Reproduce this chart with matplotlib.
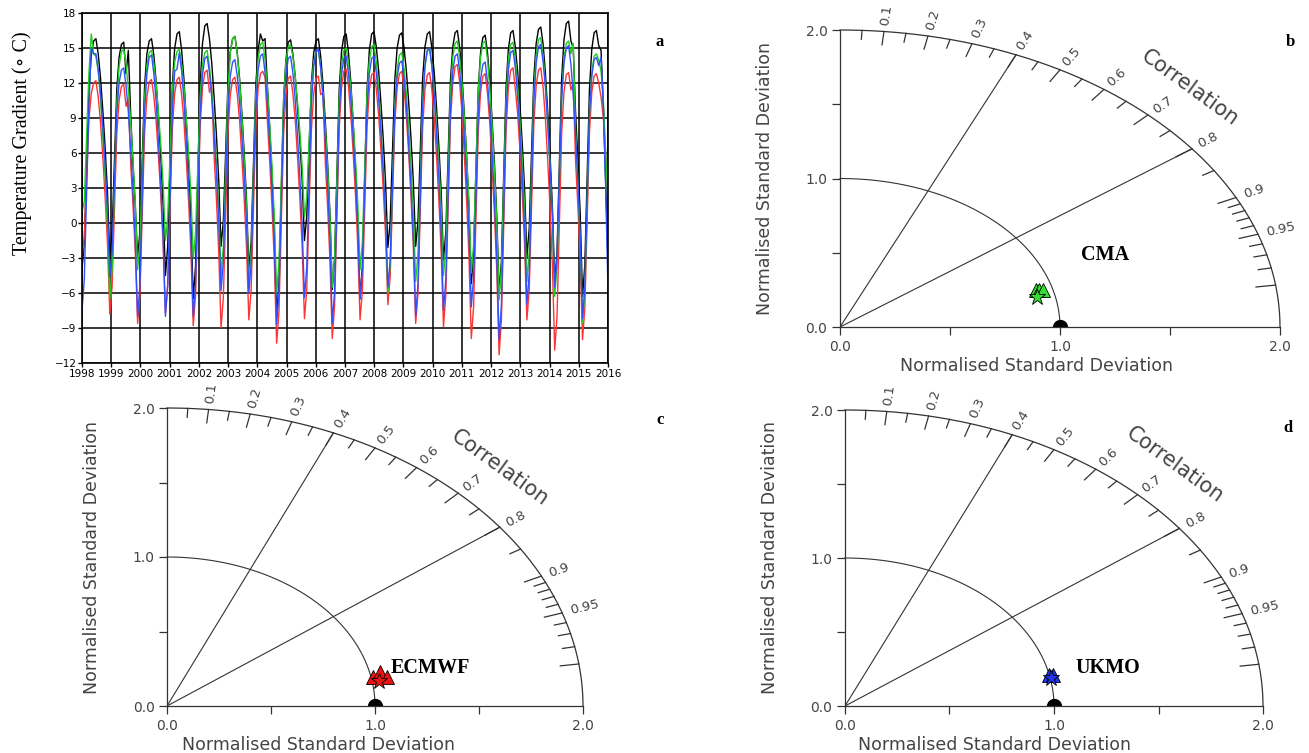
import numpy as np
import matplotlib
matplotlib.use("Agg")
import matplotlib.pyplot as plt

# monthly temperature gradient, 19 cycles of 12 values, plotted over 1998-2016
obs = [
    -4.0, -1.6, 4.9, 11.4, 14.4, 15.6, 15.8, 14.5, 12.4, 9.6, 6.4, 2.6,
    -3.0, -0.8, 5.3, 11.4, 14.2, 15.3, 15.5, 12.8, 14.8, 9.4, 5.0, 1.5,
    -3.0, -0.7, 5.5, 11.7, 14.5, 15.6, 15.8, 14.4, 12.1, 9.1, 5.7, 1.6,
    -4.5, -2.0, 4.9, 11.8, 15.0, 16.2, 16.4, 14.8, 12.3, 8.8, 5.0, 0.4,
    -6.5, -3.7, 4.1, 11.9, 15.4, 16.9, 17.1, 15.8, 13.7, 10.8, 7.6, 3.7,
    -2.0, 0.2, 6.1, 12.0, 14.7, 15.8, 16.0, 14.6, 12.4, 9.4, 6.0, 2.0,
    -4.0, -1.6, 5.1, 11.8, 14.8, 16.2, 15.6, 15.8, 11.8, 8.2, 4.1, -0.7,
    -8.0, -5.2, 2.7, 10.5, 14.0, 15.5, 15.7, 14.5, 12.6, 10.0, 7.1, 3.7,
    -1.5, 0.6, 6.3, 12.0, 14.6, 15.6, 15.8, 14.3, 11.9, 8.7, 5.1, 0.8,
    -5.7, -3.1, 4.2, 11.4, 14.7, 16.0, 16.2, 14.6, 12.1, 8.7, 4.9, 0.3,
    -6.5, -3.8, 3.8, 11.4, 14.8, 16.2, 16.4, 15.1, 13.1, 10.3, 7.2, 3.5,
    -2.1, 0.1, 6.2, 12.3, 15.0, 16.1, 16.3, 15.0, 13.0, 10.3, 7.2, 3.5,
    -2.0, 0.2, 6.3, 12.4, 15.1, 16.2, 16.4, 15.0, 12.9, 9.9, 6.6, 2.7,
    -3.2, -0.8, 5.7, 12.2, 15.1, 16.3, 16.5, 15.0, 12.6, 9.3, 5.7, 1.3,
    -5.2, -2.6, 4.4, 11.4, 14.6, 15.9, 16.1, 14.6, 12.1, 8.8, 5.1, 0.6,
    -6.0, -3.3, 4.1, 11.6, 14.9, 16.3, 16.5, 15.1, 13.0, 10.1, 6.8, 2.9,
    -2.9, -0.5, 6.0, 12.5, 15.4, 16.6, 16.8, 15.3, 12.8, 9.5, 5.8, 1.4,
    -5.2, -2.5, 5.0, 12.4, 15.7, 17.1, 17.3, 15.6, 15.0, 9.5, 5.5, 0.8,
    -6.3, -3.6, 4.0, 11.5, 14.9, 16.3, 16.5, 15.2, 14.8, 10.0, 3.5, -3.5,
]
cma = [
    1.0, 1.8, 7.5, 12.9, 16.2, 14.5, 14.3, 13.0, 10.6, 7.4, 3.9, -0.3,
    -6.5, -3.9, 3.1, 10.2, 13.4, 14.7, 14.9, 13.6, 11.5, 8.7, 5.5, 1.7,
    -4.0, -1.7, 4.5, 10.7, 13.5, 14.6, 14.8, 13.7, 11.9, 9.4, 6.7, 3.4,
    -1.5, 0.5, 5.9, 11.3, 13.8, 14.7, 14.9, 13.6, 11.7, 9.0, 6.0, 2.4,
    -3.0, -0.9, 5.0, 10.9, 13.6, 14.6, 14.8, 13.4, 11.3, 8.4, 5.2, 1.3,
    -4.5, -2.0, 4.7, 11.5, 14.6, 15.8, 16.0, 14.5, 12.2, 9.1, 5.5, 1.3,
    -5.0, -2.5, 4.2, 11.0, 14.1, 15.3, 15.5, 14.0, 11.6, 8.4, 4.8, 0.5,
    -6.0, -3.4, 3.6, 10.6, 13.8, 15.1, 15.3, 14.3, 12.6, 10.4, 7.9, 4.9,
    0.5, 2.2, 6.9, 11.7, 13.8, 14.7, 14.8, 13.4, 11.1, 8.1, 4.7, 0.6,
    -5.5, -3.0, 3.7, 10.5, 13.6, 14.8, 15.0, 13.7, 11.6, 8.7, 5.5, 1.7,
    -4.0, -1.7, 4.7, 11.1, 13.9, 15.1, 15.3, 13.8, 11.5, 8.3, 4.7, 0.4,
    -6.0, -3.5, 3.3, 10.1, 13.2, 14.4, 14.6, 13.2, 11.1, 8.1, 4.8, 0.9,
    -5.0, -2.6, 4.0, 10.5, 13.5, 14.7, 14.9, 13.5, 11.4, 8.5, 5.2, 1.3,
    -4.5, -2.1, 4.5, 11.2, 14.2, 15.4, 15.6, 14.2, 12.0, 9.0, 5.7, 1.7,
    -4.3, -1.9, 4.7, 11.2, 14.2, 15.4, 15.6, 14.0, 11.6, 8.3, 4.5, 0.1,
    -6.6, -3.9, 3.3, 10.6, 14.0, 15.3, 15.5, 14.1, 11.8, 8.7, 5.3, 1.2,
    -5.0, -2.5, 4.4, 11.3, 14.4, 15.7, 15.9, 14.3, 11.9, 8.6, 4.8, 0.4,
    -6.3, -3.7, 3.6, 10.8, 14.1, 15.4, 15.6, 14.5, 15.4, 8.0, 3.5, -1.5,
    -8.6, -5.8, 1.8, 9.4, 12.9, 14.3, 14.5, 14.0, 13.0, 10.5, 6.0, 1.5,
]
ukmo = [
    -7.5, -4.8, 2.6, 10.1, 15.0, 14.5, 14.5, 13.2, 11.1, 8.2, 4.9, 1.1,
    -4.6, -2.5, 3.5, 9.4, 12.0, 13.1, 13.3, 11.8, 9.5, 6.3, 2.7, -1.6,
    -8.0, -5.3, 2.1, 9.5, 12.8, 14.2, 14.4, 12.8, 10.4, 7.0, 3.2, -1.3,
    -8.0, -5.3, 2.2, 9.6, 13.0, 13.2, 14.6, 13.0, 10.5, 7.1, 3.3, -1.2,
    -8.0, -5.3, 2.0, 9.4, 12.7, 14.1, 14.3, 12.9, 10.7, 7.7, 4.3, 0.2,
    -5.8, -3.4, 3.1, 9.6, 12.6, 13.8, 14.0, 12.6, 10.4, 7.4, 4.0, 0.0,
    -6.0, -3.5, 3.2, 10.0, 13.1, 14.3, 14.5, 12.9, 10.3, 6.8, 2.9, -1.7,
    -8.7, -5.9, 1.7, 9.2, 12.7, 14.1, 14.3, 12.9, 10.6, 7.5, 4.0, -0.2,
    -6.4, -3.8, 3.2, 10.2, 13.4, 14.7, 14.9, 13.3, 10.7, 7.1, 3.2, -1.5,
    -8.6, -5.9, 1.7, 9.3, 12.7, 14.1, 14.3, 12.8, 10.6, 7.4, 3.9, -0.3,
    -6.5, -4.0, 2.9, 9.7, 12.8, 14.1, 14.3, 12.9, 10.7, 7.8, 4.4, 0.4,
    -5.5, -3.2, 3.2, 9.6, 12.5, 13.7, 13.9, 12.4, 10.0, 6.7, 3.0, -1.4,
    -8.0, -5.2, 2.4, 9.9, 13.4, 14.8, 15.0, 13.4, 11.0, 7.6, 3.8, -0.8,
    -7.5, -4.9, 2.4, 9.7, 13.0, 14.3, 14.5, 13.0, 10.6, 7.3, 3.7, -0.7,
    -7.2, -4.7, 2.3, 9.2, 12.3, 13.6, 13.8, 12.1, 9.5, 6.0, 1.9, -2.9,
    -10.0, -7.0, 1.2, 9.3, 13.1, 14.6, 14.8, 13.3, 10.9, 7.6, 3.9, -0.5,
    -7.0, -4.3, 3.0, 10.4, 13.7, 15.1, 15.3, 13.8, 11.6, 8.4, 4.9, 0.7,
    -5.5, -3.0, 3.8, 10.6, 13.7, 15.0, 15.2, 13.6, 11.0, 7.5, 3.5, -1.2,
    -8.2, -5.5, 1.9, 9.3, 12.6, 14.0, 14.2, 13.5, 14.2, 10.0, 3.0, -5.8,
]
ecmwf = [
    -3.0, -1.2, 3.8, 8.9, 11.1, 12.0, 12.2, 10.8, 8.6, 5.6, 2.2, -1.8,
    -7.8, -5.4, 1.1, 7.6, 10.5, 11.7, 11.9, 10.0, 10.7, 5.1, 1.6, -2.5,
    -8.6, -6.1, 0.8, 7.7, 10.8, 12.1, 12.3, 10.9, 8.7, 5.7, 2.3, -1.7,
    -7.7, -5.3, 1.4, 8.1, 11.1, 12.3, 12.5, 11.0, 8.7, 5.5, 1.9, -2.4,
    -8.8, -6.2, 1.1, 8.3, 11.6, 12.9, 13.1, 11.2, 11.8, 5.8, 2.1, -2.4,
    -9.0, -6.4, 0.7, 7.8, 11.0, 12.3, 12.5, 11.0, 8.8, 5.6, 2.1, -2.1,
    -8.3, -5.7, 1.3, 8.3, 11.5, 12.8, 13.0, 12.5, 8.8, 5.3, 1.4, -3.3,
    -10.3, -7.6, 0.0, 7.6, 11.0, 12.4, 12.6, 11.1, 8.9, 5.7, 2.2, -2.0,
    -8.2, -5.7, 1.2, 8.0, 11.1, 12.4, 12.6, 11.0, 11.2, 5.2, 1.4, -3.2,
    -9.9, -7.1, 0.5, 8.1, 11.6, 13.0, 13.2, 11.7, 9.3, 6.1, 2.5, -1.9,
    -8.3, -5.8, 1.2, 8.2, 11.4, 12.7, 12.9, 11.5, 9.3, 6.3, 2.9, -1.0,
    -7.0, -4.6, 2.0, 8.6, 11.6, 12.8, 13.0, 11.5, 9.1, 5.9, 2.2, -2.1,
    -8.6, -6.0, 1.1, 8.2, 11.4, 12.7, 12.9, 11.4, 9.0, 5.7, 2.0, -2.4,
    -8.9, -6.2, 1.2, 8.7, 12.0, 13.4, 13.6, 12.0, 9.4, 5.8, 1.9, -2.9,
    -9.9, -7.2, 0.3, 7.8, 11.2, 12.6, 12.8, 11.1, 8.5, 4.8, 0.8, -4.1,
    -11.3, -8.3, -0.2, 7.9, 11.6, 13.1, 13.3, 11.5, 9.4, 6.2, 2.5, -1.8,
    -8.3, -5.7, 1.4, 8.5, 11.8, 13.1, 13.3, 11.6, 8.9, 5.3, 1.2, -3.6,
    -10.9, -8.0, -0.2, 7.7, 11.2, 12.7, 12.9, 11.4, 12.0, 5.3, 1.5, -3.1,
    -10.0, -7.3, 0.3, 7.8, 11.2, 12.6, 12.8, 12.0, 10.8, 9.0, 6.0, 2.0,
]
years = list(range(1998, 2017))
yticks_a = list(range(-12, 19, 3))

# taylor diagram points: (std ratio, correlation)
cma_tri_std = [0.924, 0.939, 0.958]
cma_tri_cor = [0.963, 0.964, 0.965]
cma_star = (0.920, 0.975)
ecm_tri_std = [1.010, 1.050, 1.077]
ecm_tri_cor = [0.981, 0.976, 0.983]
ecm_star = (1.032, 0.987)
uk_tri_std = [0.998, 1.017]
uk_tri_cor = [0.977, 0.978]
uk_star = (1.003, 0.982)

corr_major = [0.1, 0.2, 0.3, 0.4, 0.5, 0.6, 0.7, 0.8, 0.9, 0.95, 0.99]
corr_minor = [0.05, 0.15, 0.25, 0.35, 0.45, 0.55, 0.65, 0.75, 0.85,
              0.91, 0.92, 0.93, 0.94, 0.96, 0.97, 0.98]
corr_labels = [0.1, 0.2, 0.3, 0.4, 0.5, 0.6, 0.7, 0.8, 0.9, 0.95]

W, H = 1309, 753
fig = plt.figure(figsize=(W / 100, H / 100), dpi=100)


def px_axes(x0, y0, x1, y1):
    return fig.add_axes([x0 / W, 1 - y1 / H, (x1 - x0) / W, (y1 - y0) / H])


def ftext(x, y, s, **kw):
    fig.text(x / W, 1 - y / H, s, **kw)


serif = ["Liberation Serif", "DejaVu Serif"]

# ---- panel a ----
ax = px_axes(82, 13, 608, 363)
t = np.linspace(1998, 2016, len(obs))
ax.plot(t, obs, color="black", lw=1.0)
ax.plot(t, ecmwf, color="#ff3333", lw=1.0)
ax.plot(t, cma, color="#1ecc1e", lw=1.0)
ax.plot(t, ukmo, color="#3050ff", lw=1.0)
ax.set_xlim(1998, 2016)
ax.set_ylim(-12, 18)
ax.set_xticks(years)
ax.set_yticks(yticks_a)
ax.grid(True, color="black", lw=1.1)
for s in ax.spines.values():
    s.set_linewidth(1.2)
ax.tick_params(labelsize=7.5, length=3, width=1, pad=1)
ftext(22, 143, "Temperature Gradient (\u2218 C)", rotation=90, ha="center",
      va="center", fontsize=14.5, family=serif)


# ---- taylor panels ----
def taylor(ax, name, tri_std, tri_cor, star, color, name_xy, corr_xy,
           xlab_x, xlab_y):
    gray = "#333333"
    ax.set_xlim(0, 2)
    ax.set_ylim(0, 2)
    for side in ["top", "right"]:
        ax.spines[side].set_visible(False)
    for side in ["left", "bottom"]:
        ax.spines[side].set_color(gray)
        ax.spines[side].set_linewidth(0.9)
    ax.set_xticks([0, 0.5, 1, 1.5, 2])
    ax.set_xticklabels(["0.0", "", "1.0", "", "2.0"])
    ax.set_yticks([0, 0.5, 1, 1.5, 2])
    ax.set_yticklabels(["0.0", "", "1.0", "", "2.0"])
    ax.tick_params(direction="out", length=6, width=0.9, color=gray,
                   labelsize=10, labelcolor="#444444", pad=3)
    ax.patch.set_alpha(0)

    th = np.linspace(0, np.pi / 2, 300)
    ax.plot(2 * np.cos(th), 2 * np.sin(th), color=gray, lw=0.9, clip_on=False)
    ax.plot(np.cos(th), np.sin(th), color=gray, lw=0.8, clip_on=False)
    for c in [0.4, 0.8]:
        a = np.arccos(c)
        ax.plot([0, 2 * np.cos(a)], [0, 2 * np.sin(a)], color=gray, lw=0.8)
    for c in corr_major:
        a = np.arccos(c)
        ax.plot([1.91 * np.cos(a), 2 * np.cos(a)], [1.91 * np.sin(a), 2 * np.sin(a)],
                color=gray, lw=0.9, clip_on=False)
    for c in corr_minor:
        a = np.arccos(c)
        ax.plot([1.94 * np.cos(a), 2 * np.cos(a)], [1.94 * np.sin(a), 2 * np.sin(a)],
                color=gray, lw=0.9, clip_on=False)
    p0 = ax.transData.transform((0, 0))
    for c in corr_labels:
        a = np.arccos(c)
        p1 = ax.transData.transform((np.cos(a), np.sin(a)))
        rot = np.degrees(np.arctan2(p1[1] - p0[1], p1[0] - p0[0]))
        ax.text(2.04 * np.cos(a), 2.04 * np.sin(a), f"{c:g}", rotation=rot,
                rotation_mode="anchor", ha="left", va="center", fontsize=9.5,
                color="#444444", clip_on=False)

    # reference point
    ax.plot([1.0], [0.0], "o", color="black", ms=10, clip_on=True, zorder=2)
    tri_x = [s * c for s, c in zip(tri_std, tri_cor)]
    tri_y = [s * np.sqrt(1 - c * c) for s, c in zip(tri_std, tri_cor)]
    ax.plot(tri_x, tri_y, "^", color=color, mec="black", mew=0.6, ms=10,
            ls="none", zorder=5)
    ax.plot([star[0] * star[1]], [star[0] * np.sqrt(1 - star[1] ** 2)], "*",
            color=color, mec="black", mew=0.6, ms=12, zorder=6)

    ftext(name_xy[0], name_xy[1], name, ha="center", va="center",
          fontsize=14.5, weight="bold", family=serif)
    ftext(corr_xy[0], corr_xy[1], "Correlation", ha="center", va="center",
          fontsize=15, rotation=-36, color="#444444")
    ftext(xlab_x, xlab_y, "Normalised Standard Deviation", ha="center",
          va="center", fontsize=12.5, color="#444444")
    bb = ax.get_position()
    ftext(bb.x0 * W - 75, (1 - (bb.y0 + bb.height / 2)) * H,
          "Normalised Standard Deviation", ha="center", va="center",
          rotation=90, fontsize=12.5, color="#444444")


axb = px_axes(840, 30, 1280, 327)
taylor(axb, "CMA", cma_tri_std, cma_tri_cor, cma_star, "#33dd33",
       (1105, 255), (1190, 88), 1037, 366)
axc = px_axes(167, 408, 583, 706)
taylor(axc, "ECMWF", ecm_tri_std, ecm_tri_cor, ecm_star, "#ee1111",
       (430, 668), (500, 468), 318, 745)
axd = px_axes(845, 410, 1263, 706)
taylor(axd, "UKMO", uk_tri_std, uk_tri_cor, uk_star, "#2233ee",
       (1108, 668), (1175, 465), 995, 745)

for s, x, y in [("a", 660, 42), ("b", 1290, 42), ("c", 660, 420), ("d", 1288, 428)]:
    ftext(x, y, s, ha="center", va="center", fontsize=12, weight="bold",
          family=serif)

fig.savefig("out.png", dpi=100)
